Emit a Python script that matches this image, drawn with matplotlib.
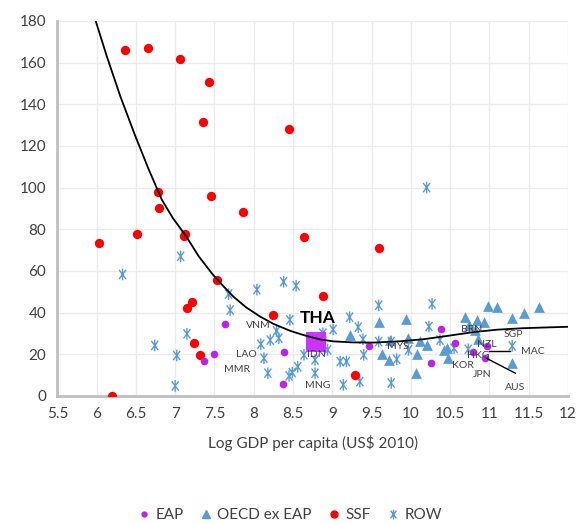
import matplotlib
matplotlib.use("Agg")
import matplotlib.pyplot as plt
from matplotlib.path import Path
from matplotlib.lines import Line2D

# values (x = log GDP per capita, y = indicator)
ssf_x = [6.36, 6.65, 7.06, 7.43, 7.35, 8.45, 6.78, 6.80, 7.45, 7.86, 6.03, 6.52,
         7.13, 7.11, 7.53, 7.22, 7.15, 7.24, 7.31, 8.25, 6.20, 8.64, 9.60, 8.88, 9.29]
ssf_y = [166, 167, 161.5, 150.5, 131.4, 128.2, 98, 90, 96, 88.3, 73.2, 77.7,
         77.7, 76.6, 55.4, 45, 42, 25.3, 19.7, 38.9, 0, 76.4, 70.8, 48, 10.1]

eap_x = [7.63, 7.50, 7.37, 8.38, 8.37, 8.80, 9.47, 10.38, 10.56, 10.25, 10.79, 10.97, 10.94]
eap_y = [34.5, 20.3, 16.7, 21.0, 5.6, 24.5, 24.0, 32.2, 25.2, 15.7, 21.3, 24.0, 18.4]

oecd_x = [10.98, 11.10, 11.63, 11.44, 11.29, 10.69, 10.84, 10.93, 10.74, 9.94, 9.60,
          9.23, 9.96, 10.11, 10.21, 10.42, 10.47, 10.08, 9.63, 9.72, 10.07, 11.29,
          10.81, 10.86, 9.73, 10.46]
oecd_y = [43.3, 42.6, 42.9, 39.7, 37.3, 37.8, 36.2, 35.4, 34.1, 37.0, 35.6,
          29.3, 28.0, 26.4, 24.2, 21.8, 18.4, 20.2, 20.2, 17.3, 11.0, 15.7,
          31.7, 27.2, 26.6, 22.9]

row_x = [6.33, 7.07, 6.74, 7.02, 7.00, 7.15, 7.68, 7.70, 8.04, 8.38, 8.54, 8.09,
         8.13, 8.18, 8.21, 8.32, 8.29, 8.46, 8.45, 8.49, 8.56, 8.64, 8.78, 8.78,
         8.88, 9.01, 8.94, 9.10, 9.18, 9.14, 9.35, 9.22, 9.33, 9.39, 9.40, 9.59,
         9.59, 9.75, 9.75, 9.82, 9.97, 10.27, 10.23, 10.37, 10.55, 10.73, 11.29, 10.20]
row_y = [58.3, 67.0, 24.2, 19.4, 4.8, 29.8, 48.9, 41.2, 51.0, 54.8, 52.9, 24.8,
         18.1, 10.9, 26.8, 27.7, 31.2, 36.5, 9.6, 11.2, 14.0, 19.7, 17.3, 10.9,
         30.1, 31.9, 22.1, 16.5, 16.5, 5.3, 6.9, 37.8, 33.0, 27.2, 19.7, 43.5,
         26.1, 26.1, 6.2, 17.6, 22.1, 44.2, 33.3, 26.8, 22.9, 22.4, 24.0, 100.0]

tha_x, tha_y = 8.79, 26.0

# fitted trend curve as drawn in the reference
trend_x = [5.98, 6.13, 6.30, 6.49, 6.66, 6.83, 6.97, 7.14, 7.30, 7.48, 7.62, 7.74,
           7.90, 8.08, 8.25, 8.46, 8.60, 8.71, 8.85, 9.01, 9.25, 9.52, 9.85,
           10.16, 10.50, 10.79, 11.10, 11.43, 11.75, 12.02]
trend_y = [181, 163, 144, 125, 109, 94.2, 85.4, 76.6, 67.0, 58.2, 52.4, 47.7,
           42.6, 38.1, 34.6, 31.3, 29.6, 28.4, 27.1, 26.2, 25.7, 25.6, 26.2,
           27.2, 29.0, 30.6, 31.8, 32.5, 32.9, 33.2]

labels = ["VNM", "LAO", "MMR", "IDN", "MNG", "MYS", "BRN", "SGP", "NZL", "HKG",
          "KOR", "JPN", "AUS", "MAC"]
label_x = [8.06, 7.90, 7.79, 8.80, 8.82, 9.83, 10.77, 11.30, 10.97, 10.86,
           10.66, 10.91, 11.33, 11.55]
label_y = [33.7, 20.0, 12.8, 20.0, 5.0, 23.6, 31.7, 29.3, 24.8, 19.4,
           14.7, 10.4, 4.2, 21.3]

# leader lines
leader_x = [[10.99, 11.26], [10.96, 11.33]]
leader_y = [[21.5, 21.5], [18.1, 10.9]]

xticks = [5.5, 6, 6.5, 7, 7.5, 8, 8.5, 9, 9.5, 10, 10.5, 11, 11.5, 12]
xtick_labels = ["5.5", "6", "6.5", "7", "7.5", "8", "8.5", "9", "9.5", "10",
                "10.5", "11", "11.5", "12"]

RED = "#FF0000"
PURPLE = "#BB22EE"
BLUE = "#5B9BD5"

# asterisk marker: vertical stroke plus narrow X
star = Path([(0, -1), (0, 1), (-0.6, -0.8), (0.6, 0.8), (-0.6, 0.8), (0.6, -0.8)],
            [Path.MOVETO, Path.LINETO, Path.MOVETO, Path.LINETO, Path.MOVETO, Path.LINETO])

plt.rcParams["font.family"] = ["Lato", "DejaVu Sans"]

fig = plt.figure(figsize=(5.79, 5.23), dpi=100)
ax = fig.add_axes([0.099, 0.243, 0.882, 0.717])

ax.scatter(row_x, row_y, marker=star, s=70, facecolors="none", edgecolors=BLUE,
           linewidths=1.0, zorder=3)
ax.scatter(oecd_x, oecd_y, marker="^", s=60, color=BLUE, linewidths=0, zorder=3)
ax.scatter(ssf_x, ssf_y, marker="o", s=45, color=RED, linewidths=0, zorder=4)
ax.scatter(eap_x, eap_y, marker="o", s=30, color=PURPLE, linewidths=0, zorder=4)
ax.scatter([tha_x], [tha_y], marker="s", s=190, color="#CC33FF", linewidths=0, zorder=4)

ax.plot(trend_x, trend_y, color="black", lw=1.3, zorder=5)
for lx, ly in zip(leader_x, leader_y):
    ax.plot(lx, ly, color="black", lw=1.0, zorder=5)

for t, x, y in zip(labels, label_x, label_y):
    ax.text(x, y, t, fontsize=7.5, color="#404040", ha="center", va="center", zorder=6)
ax.text(8.82, 37.5, "THA", fontsize=12.5, fontweight="bold", color="black",
        ha="center", va="center", zorder=6)

ax.set_xlim(5.5, 12)
ax.set_ylim(0, 180)
ax.set_xticks(xticks)
ax.set_xticklabels(xtick_labels)
ax.set_yticks(range(0, 181, 20))
ax.tick_params(length=0, labelsize=11, colors="#404040", pad=8)
ax.grid(True, color="#EBEBEB", lw=1.0)
ax.set_axisbelow(True)
for s in ("top", "right"):
    ax.spines[s].set_visible(False)
for s in ("left", "bottom"):
    ax.spines[s].set_color("#BFBFBF")
    ax.spines[s].set_linewidth(2)
ax.set_xlabel("Log GDP per capita (US$ 2010)", fontsize=11, color="#404040", labelpad=10)

handles = [
    Line2D([], [], ls="none", marker="o", ms=3.5, color=PURPLE, label="EAP"),
    Line2D([], [], ls="none", marker="^", ms=6, color=BLUE, label="OECD ex EAP"),
    Line2D([], [], ls="none", marker="o", ms=5, color=RED, label="SSF"),
    Line2D([], [], ls="none", marker=star, ms=7, mfc="none", mec=BLUE, mew=1.0, label="ROW"),
]
fig.legend(handles=handles, loc="center", bbox_to_anchor=(0.5, 0.015), ncol=4,
           frameon=False, fontsize=11, handlelength=0.9, handletextpad=0.3,
           columnspacing=1.0, labelcolor="#404040")

fig.savefig("out.png", dpi=100)
